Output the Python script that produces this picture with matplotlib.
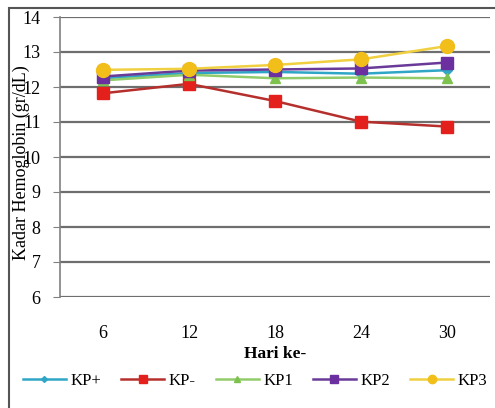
import matplotlib
matplotlib.use("Agg")
import matplotlib.pyplot as plt
from matplotlib.patches import Rectangle

days = ["6", "12", "18", "24", "30"]
kp_plus = [12.25, 12.40, 12.43, 12.38, 12.48]
kp_minus = [11.82, 12.09, 11.60, 11.01, 10.87]
kp1 = [12.19, 12.35, 12.25, 12.27, 12.25]
kp2 = [12.30, 12.47, 12.50, 12.53, 12.70]
kp3 = [12.49, 12.52, 12.63, 12.79, 13.17]
y_ticks = [6, 7, 8, 9, 10, 11, 12, 13, 14]

plt.rcParams['font.family'] = ['Liberation Serif', 'DejaVu Serif']

W, H = 495, 408
fig = plt.figure(figsize=(W / 100, H / 100), dpi=100)
ax = fig.add_axes([60 / W, 1 - 297 / H, 430 / W, 280 / H])

x = list(range(len(days)))
series = [
    ("KP+", kp_plus, "#2FA6C6", "#2FA6C6", "D", 5),
    ("KP-", kp_minus, "#B5302C", "#E3201B", "s", 9),
    ("KP1", kp1, "#92CC6A", "#7DC24E", "^", 7),
    ("KP2", kp2, "#6A3A98", "#6B2FA0", "s", 9),
    ("KP3", kp3, "#F0D040", "#F2BE1A", "o", 10),
]
for name, vals, lc, mc, mk, ms in series:
    ax.plot(x, vals, color=lc, lw=1.8, marker=mk, markersize=ms,
            markerfacecolor=mc, markeredgecolor=mc, label=name)

ax.set_xlim(-0.5, len(days) - 0.5)
ax.set_ylim(6, 14)
ax.set_yticks(y_ticks)
ax.set_yticklabels([str(t) for t in y_ticks], fontsize=13)
ax.set_xticks(x)
ax.set_xticklabels(days, fontsize=13)
ax.tick_params(axis='x', length=0, pad=20)
ax.tick_params(axis='y', length=5, color='#808080', pad=9)
ax.grid(axis='y', color='#6E6E6E', lw=1.6)
ax.set_axisbelow(True)
for s in ['top', 'right', 'bottom']:
    ax.spines[s].set_visible(False)
ax.spines['left'].set_color('#808080')
ax.spines['left'].set_linewidth(1.2)

ax.set_xlabel("Hari ke-", fontsize=12.5, fontweight='bold', labelpad=3)
fig.text(21 / W, 1 - 163 / H, "Kadar Hemoglobin (gr/dL)", rotation=90,
         ha='center', va='center', fontsize=13)

fig.legend(loc='center', bbox_to_anchor=(0.515, 1 - 381 / H), ncol=5,
           frameon=False, fontsize=12, handlelength=2.6, columnspacing=1.2,
           handletextpad=0.25, markerscale=0.6)

fig.patches.append(Rectangle((9 / W, -0.1), 1.2, 1 - 8 / H + 0.1,
                             transform=fig.transFigure, fill=False,
                             edgecolor='#555555', lw=1.5))

fig.savefig("out.png", dpi=100)
